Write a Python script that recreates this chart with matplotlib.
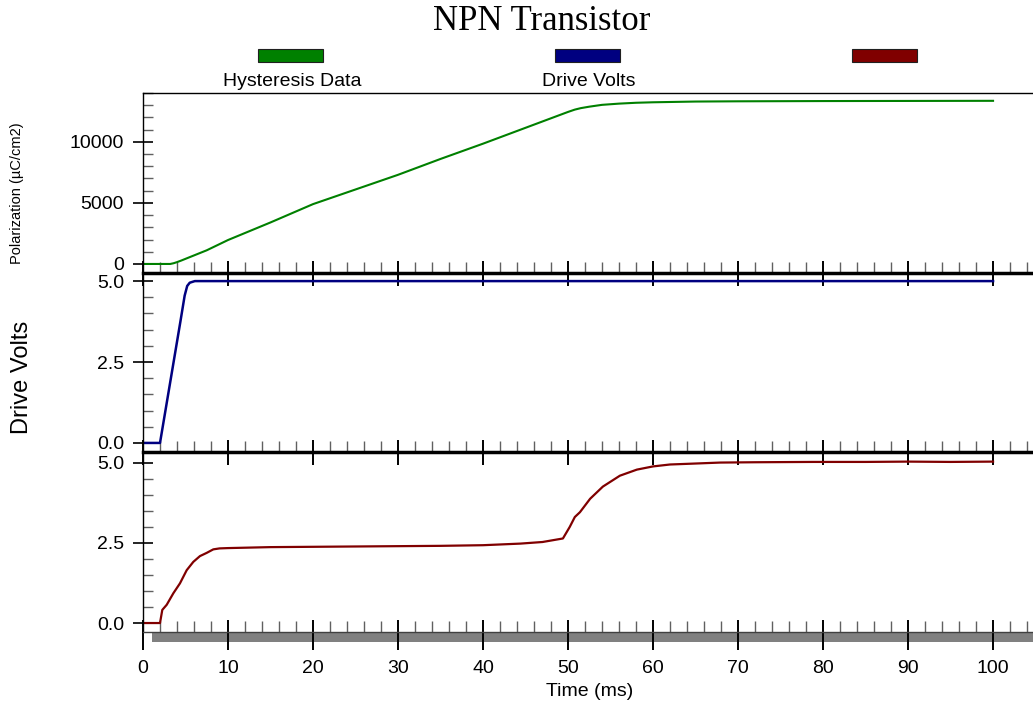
import numpy as np
import matplotlib
matplotlib.use("Agg")
import matplotlib.pyplot as plt
from matplotlib.patches import Rectangle
from matplotlib.ticker import MultipleLocator, FixedLocator

plt.rcParams['font.family'] = ['Liberation Sans', 'DejaVu Sans']

title = "NPN Transistor"
series_names = ["Hysteresis Data", "Drive Volts", ""]
series_colors = ["#008000", "#000080", "#800000"]
pol_label = "Polarization (µC/cm2)"
drive_label = "Drive Volts"
x_label = "Time (ms)"
time_ticks = [0, 10, 20, 30, 40, 50, 60, 70, 80, 90, 100]

# top panel: polarization vs time
pol_t = [0, 3.2, 3.6, 4.0, 4.5, 5.0, 6.0, 7.5, 10, 15, 20, 25, 30, 35, 40, 45,
         50, 50.8, 51.5, 52.5, 54, 56, 58, 60, 65, 70, 80, 90, 100]
pol_v = [0, 0, 60, 150, 280, 420, 700, 1120, 1960, 3400, 4900, 6100, 7300,
         8600, 9850, 11150, 12450, 12640, 12760, 12880, 13030, 13130, 13200,
         13240, 13300, 13320, 13340, 13350, 13360]

# middle panel: drive volts
drive_t = [0, 2.0, 3.6, 4.4, 4.9, 5.2, 5.5, 6.1, 20, 40, 60, 80, 100]
drive_v = [0, 0, 2.5, 3.75, 4.55, 4.85, 4.95, 5.0, 5.0, 5.0, 5.0, 5.0, 5.0]

# bottom panel: third channel
out_t = [0, 2.0, 2.27, 2.79, 3.57, 4.35, 5.14, 5.92, 6.7, 7.49, 8.27, 9.0, 10,
         15, 20, 25, 30, 35, 40, 44.4, 47, 49.4, 50.2, 50.8, 51.4, 52.6, 54.1,
         56.1, 58.1, 60, 62, 64, 67.9, 72, 78.8, 85, 90, 95, 100]
out_v = [0, 0, 0.41, 0.57, 0.93, 1.24, 1.65, 1.91, 2.09, 2.19, 2.30, 2.33, 2.34,
         2.37, 2.38, 2.39, 2.40, 2.41, 2.43, 2.48, 2.53, 2.64, 3.0, 3.31, 3.46,
         3.88, 4.26, 4.6, 4.79, 4.89, 4.95, 4.97, 5.01, 5.02, 5.03, 5.03, 5.04,
         5.03, 5.04]

W, H = 1033, 706
P = 0.72  # points per pixel at 100 dpi
fig = plt.figure(figsize=(W / 100, H / 100), dpi=100)


def box(top, bottom, left=143):
    return [left / W, (H - bottom) / H, 1 - left / W, (bottom - top) / H]


ax1 = fig.add_axes(box(93, 273), facecolor='none')
ax2 = fig.add_axes(box(273, 452), facecolor='none')
ax3 = fig.add_axes(box(452, 632), facecolor='none')

ax1.plot(pol_t, pol_v, color=series_colors[0], lw=1.5)
ax2.plot(drive_t, drive_v, color=series_colors[1], lw=1.8)
ax3.plot(out_t, out_v, color=series_colors[2], lw=1.6)

ax1.set_ylim(-740, 14000)
ax2.set_ylim(-0.28, 5.25)
ax3.set_ylim(-0.28, 5.34)

for ax, ymaj, ymin in [(ax1, 5000, 1000), (ax2, 2.5, 0.5), (ax3, 2.5, 0.5)]:
    ax.set_xlim(0, 104.7)
    ax.xaxis.set_major_locator(MultipleLocator(10))
    ax.xaxis.set_minor_locator(MultipleLocator(2))
    ax.yaxis.set_major_locator(MultipleLocator(ymaj))
    ax.yaxis.set_minor_locator(MultipleLocator(ymin))
    ax.tick_params(axis='y', which='major', direction='inout', length=20 * P,
                   width=1.2, pad=6.5, labelsize=14)
    ax.tick_params(axis='y', which='minor', direction='in', length=10 * P,
                   width=1.0, color='#606060')
    ax.tick_params(axis='x', which='major', direction='inout', length=25 * P,
                   width=1.4, labelbottom=False)
    ax.tick_params(axis='x', which='minor', direction='in', length=11 * P,
                   width=1.0, color='#606060')
    ax.spines['right'].set_visible(False)
    ax.spines['left'].set_linewidth(1.0)

ax1.spines['top'].set_linewidth(1.0)
ax1.spines['bottom'].set_linewidth(2.5)
ax2.spines['top'].set_visible(False)
ax2.spines['bottom'].set_linewidth(2.5)
ax3.spines['top'].set_visible(False)
ax3.spines['bottom'].set_linewidth(1.0)
ax3.spines['bottom'].set_color('#404040')

# bottom axis: short ticks inside, long ticks below with the labels
ax3.tick_params(axis='x', which='major', direction='in', length=12 * P)
sec = ax3.secondary_xaxis('bottom')
sec.xaxis.set_major_locator(FixedLocator(time_ticks))
sec.tick_params(axis='x', which='major', direction='out', length=18 * P,
                width=1.4, labelsize=14, pad=7)
sec.spines['bottom'].set_visible(False)

# scroll bar under the plot
fig.add_artist(Rectangle((152 / W, (H - 642) / H), 1 - 152 / W, 10 / H,
                         transform=fig.transFigure, facecolor='#808080',
                         edgecolor='none', zorder=-1))

# legend: colour bars with the names underneath
bar_left = [258, 555, 852]
for left, name, col in zip(bar_left, series_names, series_colors):
    fig.add_artist(Rectangle((left / W, (H - 62) / H), 65 / W, 13 / H,
                             transform=fig.transFigure, facecolor=col,
                             edgecolor='#202020', lw=0.8))
    if name:
        fig.text((left + 34) / W, (H - 81) / H, name, ha='center', va='center',
                 fontsize=14)

fig.text(542 / W, (H - 22) / H, title, ha='center', va='center',
         fontsize=25, family=['Liberation Serif', 'DejaVu Serif'])
fig.text(17 / W, (H - 193) / H, pol_label, rotation=90, ha='center',
         va='center', fontsize=10.5)
fig.text(22 / W, (H - 377) / H, drive_label, rotation=90, ha='center',
         va='center', fontsize=17)
fig.text(590 / W, (H - 691) / H, x_label, ha='center', va='center',
         fontsize=14)

fig.savefig("out.png", dpi=100)
